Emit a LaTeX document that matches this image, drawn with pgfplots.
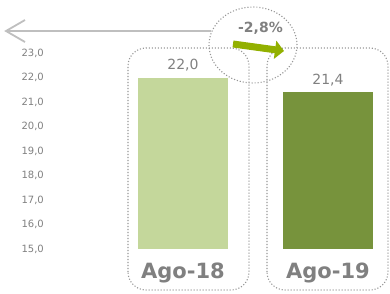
\documentclass[border=0pt]{standalone}
\usepackage{pgfplots}
\pgfplotsset{compat=1.18}
\usepackage{fontspec}
\setmainfont{DejaVu Sans}
\usetikzlibrary{arrows.meta}
\definecolor{lightbar}{RGB}{196,215,155}
\definecolor{darkbar}{RGB}{119,147,60}
\definecolor{txtgray}{RGB}{128,128,128}
\definecolor{dotgray}{RGB}{150,150,150}
\definecolor{arrgreen}{RGB}{146,176,0}
\definecolor{arrgray}{RGB}{191,191,191}
\begin{document}
\begin{tikzpicture}[x=1pt,y=1pt]
\path[use as bounding box] (0,0) rectangle (390,293);
% decorations
\draw[dotgray, line width=1.1pt, dash pattern=on 1.1pt off 1.9pt, rounded corners=18pt] (128,3) rectangle (249,245);
\draw[dotgray, line width=1.1pt, dash pattern=on 1.1pt off 1.9pt, rounded corners=18pt] (267,3) rectangle (388,245);
\draw[dotgray, line width=1.1pt, dash pattern=on 1.1pt off 1.9pt] (253,248) ellipse [x radius=44, y radius=38];
\draw[arrgray, line width=1.8pt] (211,262) -- (7,262);
\draw[arrgray, line width=1.8pt, line join=miter] (25,273) -- (6,262) -- (25,251);
\draw[arrgreen, line width=7pt, -{Triangle[length=9pt,width=18pt]}] (233,249) -- (284,242);
\node[anchor=base, inner sep=0pt, text=txtgray, font=\fontsize{14}{14}\selectfont\bfseries] at (260.5,261) {-2,8\%};
\begin{axis}[
  at={(52.5pt,44pt)}, anchor=south west,
  scale only axis, width=333.5pt, height=196pt,
  xmin=-0.9, xmax=1.4, ymin=15, ymax=23,
  axis line style={draw=none},
  major tick length=0pt,
  ytick={15,16,...,23},
  xtick={0,1}, xticklabels={Ago-18,Ago-19},
  /pgf/number format/assume math mode=true,
  yticklabel={\pgfmathprintnumber[fixed,fixed zerofill,precision=1,use comma]{\tick}},
  yticklabel style={font=\fontsize{10}{10}\selectfont, text=txtgray, anchor=east, inner sep=0pt, xshift=-8.5pt},
  xticklabel style={font=\fontsize{21}{21}\selectfont\bfseries, text=txtgray, anchor=base, inner sep=0pt, yshift=-29pt},
  nodes near coords={\pgfmathprintnumber[fixed,fixed zerofill,precision=1,use comma,assume math mode=true]{\pgfplotspointmeta}},
  nodes near coords style={font=\fontsize{14}{14}\selectfont, text=txtgray, anchor=base, inner sep=0pt, yshift=8pt},
]
\addplot[ybar, bar width=90pt, bar shift=0pt, fill=lightbar, draw=none] coordinates {(0,22.0)};
\addplot[ybar, bar width=90pt, bar shift=0pt, fill=darkbar, draw=none] coordinates {(1,21.4)};
\end{axis}
\end{tikzpicture}
\end{document}
